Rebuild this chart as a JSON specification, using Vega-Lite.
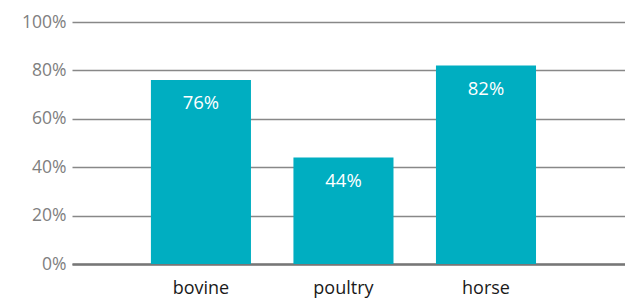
{
  "$schema": "https://vega.github.io/schema/vega-lite/v6.json",
  "autosize": "none",
  "padding": {"left": 72, "top": 22, "right": 0, "bottom": 34},
  "width": 553,
  "height": 242,
  "background": "white",
  "config": {
    "view": {"stroke": null},
    "font": "Open Sans"
  },
  "data": {
    "values": [
      {"animal": "bovine", "share": 0.76},
      {"animal": "poultry", "share": 0.44},
      {"animal": "horse", "share": 0.82}
    ]
  },
  "encoding": {
    "x": {
      "field": "animal",
      "type": "nominal",
      "sort": null,
      "scale": {"paddingInner": 0.298, "paddingOuter": 0.589, "align": 0.47},
      "axis": {
        "title": null,
        "labelAngle": 0,
        "labelFontSize": 18,
        "labelColor": "#1a1a1a",
        "labelPadding": 15,
        "ticks": false,
        "domain": true,
        "domainColor": "#777777",
        "domainWidth": 2.5,
        "grid": false
      }
    },
    "y": {
      "field": "share",
      "type": "quantitative",
      "scale": {"domain": [0, 1], "nice": false},
      "axis": {
        "title": null,
        "format": ".0%",
        "values": [0, 0.2, 0.4, 0.6, 0.8, 1],
        "labelFontSize": 17.5,
        "labelColor": "#808080",
        "labelPadding": 6,
        "ticks": false,
        "domain": false,
        "grid": true,
        "gridColor": "#888888",
        "gridWidth": 1.5
      }
    }
  },
  "layer": [
    {"mark": {"type": "bar", "color": "#00AEC1"}},
    {
      "mark": {"type": "text", "color": "white", "fontSize": 18.5, "baseline": "middle", "dy": 23},
      "encoding": {"text": {"field": "share", "type": "quantitative", "format": ".0%"}}
    }
  ]
}
